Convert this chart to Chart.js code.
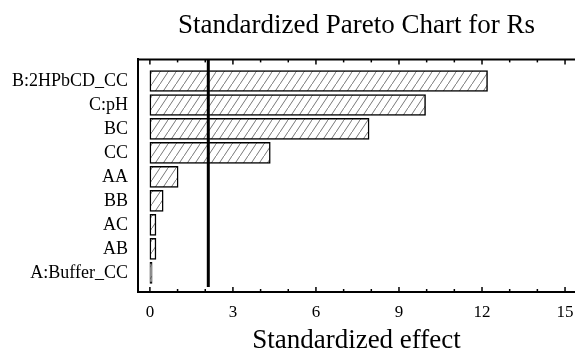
<!DOCTYPE html>
<html lang="en">
<head>
  <meta charset="UTF-8" />
  <title>Standardized Pareto Chart for Rs</title>
  <script src="https://cdn.jsdelivr.net/npm/chart.js"></script>
  <style>
    body {
      margin: 0;
      background-color: #fff;
    }
    #wrap {
      width: 575px;
      height: 354px;
    }
  </style>
</head>
<body>
  <div id="wrap"><canvas id="paretoChart" width="575" height="354"></canvas></div>

  <script>
    // effects (top to bottom)
    const categories = ['B:2HPbCD_CC', 'C:pH', 'BC', 'CC', 'AA', 'BB', 'AC', 'AB', 'A:Buffer_CC'];
    const effects = [12.2, 9.96, 7.92, 4.35, 1.02, 0.48, 0.22, 0.22, 0.08];
    const critical = 2.11;
    const xTicks = [0, 3, 6, 9, 12, 15];
    const minorStep = 1;

    const serif = 'Liberation Serif';

    // diagonal hatch fill for the bars
    function makeHatch() {
      const c = document.createElement('canvas');
      c.width = 8;
      c.height = 12;
      const g = c.getContext('2d');
      g.fillStyle = '#fff';
      g.fillRect(0, 0, 8, 12);
      g.strokeStyle = '#555';
      g.lineWidth = 0.8;
      g.beginPath();
      g.moveTo(-2, 15);
      g.lineTo(10, -3);
      g.stroke();
      return g.createPattern(c, 'repeat');
    }

    // top border, inward tick marks and the critical-value line
    const framePlugin = {
      id: 'frame',
      afterDatasetsDraw(chart) {
        const { ctx, chartArea: a, scales: { x } } = chart;
        const line = (x1, y1, x2, y2) => {
          ctx.beginPath();
          ctx.moveTo(x1, y1);
          ctx.lineTo(x2, y2);
          ctx.stroke();
        };
        ctx.save();
        ctx.strokeStyle = '#000';

        ctx.lineWidth = 3;
        const cx = x.getPixelForValue(critical);
        line(cx, a.top, cx, a.bottom - 5);

        ctx.lineWidth = 2;
        line(a.left, a.top, a.right, a.top);

        ctx.lineWidth = 1.5;
        for (let v = xTicks[0]; v <= xTicks[xTicks.length - 1]; v += minorStep) {
          const len = xTicks.includes(v) ? 5 : 3;
          const px = x.getPixelForValue(v);
          line(px, a.bottom, px, a.bottom - len);
          line(px, a.top, px, a.top + len);
        }
        ctx.restore();
      }
    };

    const ctx = document.getElementById('paretoChart').getContext('2d');
    new Chart(ctx, {
      type: 'bar',
      data: {
        datasets: [{
          label: 'Standardized effect',
          data: effects.map((v, i) => ({ x: v, y: i })),
          backgroundColor: makeHatch(),
          borderColor: '#000',
          borderWidth: 1.5,
          borderSkipped: false,
          barThickness: 21
        }]
      },
      options: {
        indexAxis: 'y',
        responsive: false,
        animation: false,
        layout: { padding: 0 },
        plugins: {
          legend: { display: false },
          tooltip: { enabled: false },
          title: {
            display: true,
            text: 'Standardized Pareto Chart for Rs',
            fullSize: false,
            color: '#000',
            font: { family: serif, size: 27, weight: 'normal' },
            padding: { top: 10, bottom: 17 }
          }
        },
        scales: {
          x: {
            type: 'linear',
            min: -0.43,
            max: 15.36,
            afterBuildTicks: (scale) => {
              scale.ticks = xTicks.map(v => ({ value: v }));
            },
            afterFit: (scale) => { scale.height = 62; },
            grid: { display: false, drawTicks: true, tickLength: 10 },
            border: { display: true, color: '#000', width: 2 },
            ticks: {
              color: '#000',
              padding: 0,
              maxRotation: 0,
              font: { family: serif, size: 17 }
            },
            title: {
              display: true,
              text: 'Standardized effect',
              color: '#000',
              font: { family: serif, size: 27, lineHeight: 1 },
              padding: { top: 0, bottom: 0 }
            }
          },
          y: {
            type: 'linear',
            offset: false,
            min: -0.9,
            max: 8.8,
            reverse: true,
            afterBuildTicks: (scale) => {
              scale.ticks = categories.map((_, i) => ({ value: i }));
            },
            afterFit: (scale) => { scale.width = 138; },
            grid: { display: false, drawTicks: false },
            border: { display: true, color: '#000', width: 2 },
            ticks: {
              color: '#000',
              padding: 10,
              font: { family: serif, size: 18 },
              callback: (v) => categories[v] ?? ''
            }
          }
        }
      },
      plugins: [framePlugin]
    });
  </script>
</body>
</html>
